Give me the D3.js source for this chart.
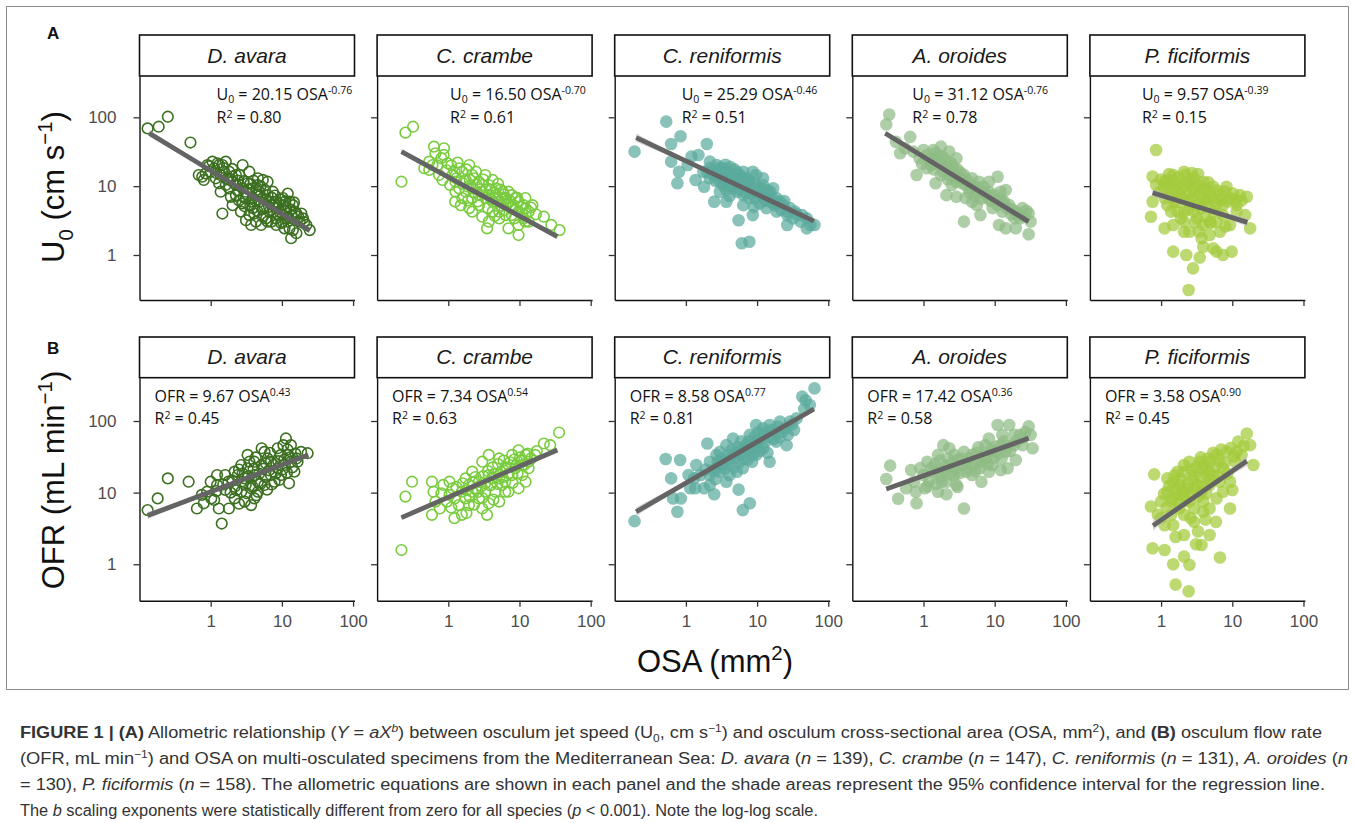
<!DOCTYPE html>
<html>
<head>
<meta charset="utf-8">
<script src="https://cdn.jsdelivr.net/npm/d3@7"></script>
<style>
  body { margin: 0; background: #fff; }
  svg { display: block; }
</style>
</head>
<body>
<svg id="fig" width="1355" height="823"></svg>
<script>
// ---- data ----
const species = ["D. avara", "C. crambe", "C. reniformis", "A. oroides", "P. ficiformis"];
const tickValues = [1, 10, 100];

const u0Coef = ["20.15", "16.50", "25.29", "31.12", "9.57"];
const u0Exp = ["-0.76", "-0.70", "-0.46", "-0.76", "-0.39"];
const u0R2 = ["0.80", "0.61", "0.51", "0.78", "0.15"];
const ofrCoef = ["9.67", "7.34", "8.58", "17.42", "3.58"];
const ofrExp = ["0.43", "0.54", "0.77", "0.36", "0.90"];
const ofrR2 = ["0.45", "0.63", "0.81", "0.58", "0.45"];

// fitted regression lines, [start, end] as [OSA, value]
const u0Fit = [
  [[0.137, 58.6], [24.6, 2.26]],
  [[0.22, 31.7], [34, 1.85]],
  [[0.2, 50.6], [63, 3.1]],
  [[0.29, 58.6], [30, 3.05]],
  [[0.76, 8.0], [16.3, 2.98]]
];
const ofrFit = [
  [[0.13, 4.78], [23.5, 33.6]],
  [[0.22, 4.48], [34, 39.4]],
  [[0.2, 5.4], [63, 147]],
  [[0.3, 11.2], [30, 57.3]],
  [[0.77, 3.46], [16, 27.7]]
];
// 95% CI half width (decades) at start, middle, end
const u0Ci = [[0.05, 0.015, 0.03], [0.03, 0.01, 0.03], [0.06, 0.015, 0.03], [0.03, 0.01, 0.03], [0.06, 0.02, 0.06]];
const ofrCi = [[0.05, 0.015, 0.03], [0.03, 0.01, 0.03], [0.06, 0.015, 0.04], [0.03, 0.01, 0.03], [0.07, 0.02, 0.07]];

// specimens: [OSA mm2, U0 cm/s]
const avaraU0 = [[0.13,69],[0.186,73],[0.25,102],[0.52,43],[0.68,14.5],[0.8,12.3],[0.9,20.3],[1.06,22.7],[1.25,21.5],[1.46,20.3],[1.38,14.5],[1.72,13],[2.26,14.5],[2.81,20.3],[3.49,16.2],[4.6,13],[5.4,12.3],[1.46,4.0],[2.03,5.3],[1.38,8.3],[1.82,9.3],[2.52,10.4],[3.13,8.3],[3.89,6.7],[4.83,5.95],[6.3,7.4],[7.46,8.3],[8.31,5.95],[10.3,5.3],[12.1,7.8],[14.3,5.3],[16,4.0],[19.8,3.4],[24.6,2.3],[14.3,2.3],[13.5,1.75],[16,2.07],[4.33,3.05],[5.1,2.73],[3.49,3.8],[6.69,4.26],[8.31,3.4],[10.3,3.05],[12.1,3.6],[9.27,4.26],[6,3.4],[3.89,4.8],[2.81,5.6],[2.26,7.4],[1.63,10.4],[1.18,13],[1.0,16.2],[0.76,13.7],[1.12,18.2],[1.31,11],[1.92,7.0],[2.66,4.26],[3.13,3.2],[3.7,2.73],[5.7,5.0],[7.1,3.05],[10.9,2.44],[17.8,3.05],[22.1,2.73],[4.6,10.4],[6.3,11.6],[3.3,11],[4.1,4.0],[5.4,3.6],[2.52,14.5],[2.03,11.6],[3.13,6.7],[4.33,7.4],[5.38,6.7],[7.46,5.3],[8.8,4.8],[11.5,4.8],[12.8,5.95],[15.1,4.26],[18.8,4.0],[10.3,3.8],[6.69,5.95],[3.7,5.95],[2.81,9.3],[2.26,10.4],[1.82,16.2],[1.55,16.2],[1.63,22.7],[1.31,20.3],[0.85,15.3],[3.89,9.3],[4.83,8.3],[10.3,6.7],[12.1,3.05],[6.3,3.05],[8.31,2.73],[12.8,2.44],
  [2.4,8.5],[2.9,7.0],[3.4,9.0],[3.6,5.2],[4.2,6.2],[4.5,4.4],[4.9,7.2],[5.3,4.7],[5.8,8.8],[6.0,6.3],[6.6,5.0],[7.2,6.8],[7.6,4.2],[8.0,7.3],[8.6,3.9],[9.0,5.6],[9.6,6.4],[10.8,4.5],[11.2,6.0],[11.8,3.4],[13.2,4.6],[13.8,3.7],[14.8,5.8],[17.0,3.6],[20.5,3.0],[1.7,12.5],[2.0,13.8],[2.4,12.0],[2.9,11.8],[3.6,10.8],[4.0,12.0],[4.4,8.8],[5.0,10.0],[1.2,15.5],[1.5,18.5],[0.95,19.5],[2.0,17.8],[3.0,5.1],[2.5,6.2],[9.8,2.9]];
const crambeU0 = [[0.25,60],[0.32,73],[0.22,11.6],[0.63,37.5],[0.66,30],[0.6,20.3],[0.54,17.2],[0.8,25.4],[0.86,28.4],[0.98,21.5],[1.22,16.2],[0.74,14.5],[0.83,12.3],[1.26,11.6],[1.57,16.2],[1.76,12.3],[2.17,14.5],[2.69,11.6],[3.3,14.5],[4.2,12.3],[1.25,5.95],[1.5,5.3],[1.97,4.8],[2.17,6.7],[3.0,8.3],[3.7,7.4],[4.7,9.3],[5.8,8.3],[6.4,6.7],[7.8,7.4],[9.7,5.95],[11.4,5.3],[13.5,4.26],[12.1,3.05],[9.7,2.73],[7.0,2.44],[9.7,1.95],[3.7,3.05],[3.5,2.44],[3.0,3.6],[5.2,4.26],[6.4,3.8],[7.8,4.8],[22,3.6],[28,2.73],[36.5,2.3],[0.87,35.5],[0.46,18.2],[0.54,22.7],[1.42,9.3],[1.76,8.3],[2.17,9.3],[2.69,7.4],[3.3,6.7],[4.2,5.95],[5.2,5.95],[6.4,5.3],[7.8,3.8],[9.7,4.26],[12.1,4.8],[11.4,3.4],[5.2,3.4],[4.2,4.26],[2.69,5.3],[2.17,4.26],[1.57,6.7],[1.26,8.3],[1.06,10.4],[1.14,14.5],[1.42,18.2],[1.97,20.3],[2.45,16.2],[3.0,10.4],[3.7,10.4],[4.7,7.4],[5.8,6.7],[7.0,8.3],[8.7,6.7],[12.1,6.7],[15.2,5.3],[13.5,3.05],
  [1.3,13],[1.6,11],[1.9,9.8],[2.0,12.5],[2.3,8.0],[2.5,10.5],[2.8,9.0],[3.1,12.5],[3.4,8.8],[3.9,9.0],[4.0,6.4],[4.4,8.1],[4.9,6.5],[5.0,10.8],[5.5,5.2],[6.0,7.6],[6.8,5.6],[7.3,6.1],[8.2,5.3],[8.8,4.5],[9.2,6.8],[10.5,5.0],[11,4.0],[14.5,4.9],[17,3.9],[0.95,17],[1.1,20],[1.35,22],[0.7,20],[1.8,17.5],[2.3,13],[3.6,4.8],[4.5,3.7],[6.2,4.5],[8.5,3.4],[5.4,8.9],[2.6,6.0],[1.9,6.2]];
const reniU0 = [[0.19,31.7],[0.53,86.5],[0.62,41],[0.84,53],[1.97,41],[0.62,22.7],[1.2,27],[1.5,28.4],[0.8,16.2],[0.76,11],[1.37,12.3],[1.8,9.8],[2.5,5.95],[2.17,22.7],[2.7,20.3],[3.3,18.2],[4.2,19],[5.2,16.2],[6.4,16.2],[9.7,14.5],[2.45,14.5],[3.0,11.6],[3.7,13],[4.7,12.3],[5.8,11.6],[7.0,13],[3.0,8.3],[3.7,8.8],[5.2,8.3],[6.4,7.4],[7.8,9.3],[9.7,8.3],[12.1,10.4],[13.5,7.4],[16.8,9.3],[15.2,5.95],[18.8,6.7],[23.5,5.3],[29,4.8],[34,4.26],[43,3.8],[50,3.4],[56,2.73],[64,2.73],[50,2.44],[26.5,2.73],[18.8,4.26],[13.5,4.8],[10.9,5.6],[6.4,5.3],[5.5,3.2],[6.1,1.48],[7.8,1.56],[3.7,5.95],[2.17,13],[1.76,16.2],[1.06,20.3],[8.7,3.8],[32,3.4],[4.2,14.5],[5.2,11],[7.8,11.6],[10.9,9.3],[15.2,8.3],[21,5.95],[12.1,6.7],[7.8,6.7],[3.3,10.4],[2.7,14.5],[2.17,18.2],[5.8,14.5],[8.7,16.2],[12.1,13],[26.5,3.8],[41,3.05],[17.8,5.3],
  [2.3,16.5],[2.6,12.0],[2.9,16.8],[3.2,15.5],[3.5,11.5],[3.8,16.5],[4.0,10.2],[4.4,13.8],[4.6,9.5],[5.0,14.8],[5.5,12.5],[5.6,9.0],[6.0,13.6],[6.6,10.6],[6.9,8.0],[7.4,12.2],[8.0,10.0],[8.3,7.8],[9.0,11.2],[9.4,6.6],[10.2,9.6],[11.0,7.6],[11.8,8.6],[13.0,6.2],[14.0,8.8],[16.0,7.0],[17.0,5.6],[19.5,5.8],[22,4.5],[24,6.1],[27,4.2],[36,3.9],[4.1,7.2],[3.0,18.6],[3.6,20.5],[4.8,17.5],[2.0,15.8],[9.0,5.0]];
const oroU0 = [[0.33,110],[0.3,79],[0.47,30],[0.65,52],[0.8,14.5],[0.55,35.5],[0.72,31.7],[1.12,18.2],[1.0,33.5],[1.38,33.5],[1.76,37.5],[2.3,31.7],[2.9,25.4],[1.7,22.7],[2.1,20.3],[1.48,11],[2.1,7.4],[2.9,7.0],[3.2,13],[3.9,10.4],[4.8,13],[6.0,11.6],[6.7,8.3],[11,13.7],[8.3,8.3],[9.3,6.7],[14.3,8.8],[12.8,5.95],[16,5.3],[19.8,4.26],[24.6,4.8],[30,4.0],[32,3.05],[30,2.0],[11.5,2.73],[14.3,2.44],[19.8,2.44],[3.7,3.05],[6.3,3.8],[4.8,5.95],[2.5,16.2],[0.88,25.4],[0.41,44],[1.29,25.4],[1.6,28.4],[1.9,16.2],[2.3,14.5],[2.9,11.6],[3.7,14.5],[4.6,9.3],[5.6,8.3],[7.9,6.7],[11,5.3],[12.8,4.26],[19,3.4],[22.8,3.4],[8.3,11.6],[12.1,8.3],[1.29,20.3],[1.76,14.5],[2.5,10.4],[3.9,6.7],[9.3,4.8],[5.6,5.3],
  [1.1,28],[1.2,24],[1.45,30],[1.55,21],[1.85,27],[2.0,24.5],[2.2,17.5],[2.4,22],[2.6,19.5],[2.7,13.8],[3.0,17.5],[3.3,15.8],[3.5,11.0],[3.8,12.8],[4.2,11.8],[4.4,8.2],[5.0,10.0],[5.3,7.2],[5.8,9.6],[6.4,6.6],[7.0,9.8],[7.5,7.6],[8.8,6.1],[9.8,7.5],[10.5,5.6],[11.8,6.6],[13.5,6.0],[15.0,4.8],[17.5,4.6],[21,3.9],[26,3.6],[28,4.4],[0.95,21],[1.4,17.5],[2.2,12.5],[17,3.9]];
const ficiU0 = [[0.85,33.5],[0.76,13.8],[0.76,5.95],[0.72,3.6],[1.12,2.44],[1.48,1.12],[2.26,1.0],[3.49,0.92],[2.81,0.64],[2.44,0.31],[6.0,1.12],[7.4,1.0],[9.8,1.12],[3.9,1.32],[5.4,1.25],[2.1,16.2],[1.48,14.5],[1.12,11.6],[2.9,13],[3.9,11.6],[5.4,9.8],[8.3,9.8],[12.8,7.4],[16,7.0],[15.2,3.8],[17.8,2.44],[11.5,5.3],[9.3,6.7],[6.7,7.4],[1.22,5.3],[1.7,4.26],[2.1,3.05],[2.5,2.18],[3.7,1.75],[4.8,1.95],[6.7,2.18],[9.3,2.73],[7.4,3.8],[5.4,4.26],[3.7,4.8],[2.5,5.95],[1.82,7.4],[1.38,8.3],[0.96,8.3],[0.85,10.4],[2.9,8.3],[3.9,6.7],[4.8,8.3],[1.48,2.73],[2.1,2.18],[3.9,2.73],[6.0,3.05],[3.2,3.4],[1.7,5.95],[1.12,6.7],[2.3,11.6],[1.7,10.4],[3.7,9.3],[7.4,5.3],[11.5,4.26],[1.22,12.3],[2.1,4.26],[2.9,4.26],[1.38,4.26],[4.3,5.3],[6.0,5.3],
  [1.0,12.5],[1.1,9.5],[1.3,10.5],[1.4,7.0],[1.55,12.0],[1.6,8.6],[1.75,13.5],[1.9,9.2],[2.0,6.6],[2.2,10.0],[2.35,7.6],[2.6,11.0],[2.7,6.8],[2.9,9.6],[3.1,5.4],[3.3,10.4],[3.5,7.8],[3.8,5.8],[4.1,9.2],[4.5,6.4],[4.6,11.4],[5.0,7.0],[5.6,6.2],[6.2,8.6],[7.0,6.4],[7.8,8.4],[8.6,6.0],[10.2,7.8],[11.0,6.2],[13.5,6.2],[1.5,6.0],[2.4,4.6],[3.0,3.0],[4.2,3.6],[5.0,2.9],[1.9,3.4],[2.2,14.5],[2.7,15.5],[3.3,15.0],[1.3,15.0],[4.8,3.0],[3.4,2.2],[8.0,2.6]];

// specimens: [OSA mm2, OFR mL/min]
const avaraOfr = [[0.13,5.7],[0.18,8.3],[0.25,15.8],[0.49,14.2],[0.64,6.0],[0.8,7.1],[0.89,10.3],[1.0,14.2],[1.23,17.6],[1.12,7.9],[1.3,6.0],[1.43,3.7],[1.8,6.0],[1.6,10.9],[2.17,12.1],[2.4,17.6],[2.69,24.3],[3.3,33.6],[3.0,15.8],[3.7,11.5],[4.1,8.3],[4.6,14.2],[5.2,24.3],[5.2,41.6],[6.3,30],[7.0,17.6],[8.7,21.9],[9.7,33.6],[11.4,57],[13.4,46],[12.6,13.5],[15,19.6],[16.6,27],[18.6,37],[23,35.5],[4.1,17.6],[3.3,21.9],[2.17,8.3],[1.6,17.6],[2.69,10.3],[3.7,6.7],[5.7,12.8],[7.9,14.2],[11,24.3],[12.2,33.6],[7.0,27],[5.7,37],[2.17,19.6],[1.77,14.2],[1.23,12.8],[1.02,8.3],[0.75,9.3],[9.7,17.6],[13.4,27],[4.6,10.3],[3.0,7.5],[4.1,27],[2.69,14.2],[8.7,41.6],
  [2.0,14.8],[2.3,10.8],[2.5,21],[2.8,18.5],[3.1,12.8],[3.4,17.0],[3.5,27],[3.9,12.0],[4.0,21.5],[4.3,31],[4.8,18.5],[5.0,13.2],[5.5,21.5],[5.9,16.5],[6.0,25.5],[6.6,20.5],[7.2,13.0],[7.6,24.5],[8.2,18.5],[8.9,27.5],[9.2,15.0],[10.2,21.0],[10.8,29],[11.8,19.0],[12.0,40],[13.0,31],[14.0,22.5],[15.5,35],[6.2,11.0],[4.4,9.2],[3.2,9.8],[2.5,7.0],[1.9,10.0],[1.5,13.0],[1.2,10.5],[16,30],[10.5,46],[6.8,36]];
const crambeOfr = [[0.22,1.58],[0.25,8.8],[0.31,14.2],[0.59,14.2],[0.62,10.3],[0.66,7.5],[0.76,6.0],[0.59,4.9],[0.85,12.8],[1.04,14.2],[1.04,9.3],[1.22,4.4],[1.55,4.9],[1.95,6.7],[1.55,10.3],[1.75,15.8],[2.17,19.6],[2.69,14.2],[3.0,27],[3.7,33.6],[3.5,4.9],[3.7,7.1],[4.6,10.3],[5.2,15.8],[6.3,21.9],[7.9,33.6],[9.7,39],[12.2,33.6],[13.4,27],[9.7,11.5],[7.0,10.3],[5.2,7.5],[2.69,8.3],[2.17,10.3],[1.23,8.3],[1.4,6.7],[3.3,10.3],[4.1,15.8],[5.7,12.8],[7.9,17.6],[11,17.6],[13.4,21.9],[11,24.3],[8.7,21.9],[6.3,14.2],[22,48.5],[27,46],[36,69],[16.6,33.6],[3.7,17.6],[2.45,11.5],[1.75,8.3],[0.96,7.5],[1.15,11.5],[3.0,6.0],[6.3,10.3],[12.2,14.2],[5.2,30],[1.95,12.8],
  [1.3,12.0],[1.6,13.5],[1.8,10.8],[2.0,8.8],[2.2,14.0],[2.4,16.5],[2.6,10.2],[2.9,12.3],[3.1,17.0],[3.3,13.5],[3.6,20],[3.9,12.6],[4.2,22.5],[4.4,18.0],[4.9,13.2],[5.0,25],[5.5,19.5],[5.8,16.4],[6.0,28],[6.6,22.5],[7.1,18.6],[7.4,26.5],[8.0,13.6],[8.4,29],[9.0,24],[9.4,18.6],[10.2,31],[10.8,28],[11.8,24.5],[13.0,35],[14.5,30],[17.5,38],[1.1,6.2],[1.8,5.2],[2.3,6.8],[3.0,8.4],[4.3,8.0],[0.8,9.8]];
const reniOfr = [[0.19,4.0],[0.52,29.5],[0.83,28.5],[0.62,15.8],[0.76,5.4],[0.85,8.3],[0.66,8.3],[1.09,17.6],[1.4,24.3],[1.35,11.5],[1.8,11.5],[2.5,9.5],[2.0,48.5],[2.17,27],[2.69,33.6],[3.0,19.6],[3.7,46],[4.1,30],[4.6,57],[5.5,11],[6.3,5.7],[7.9,7.1],[6.3,21.9],[7.0,46],[7.9,37],[9.7,88],[9.7,51.5],[12.2,64],[15,27],[15,88],[18.6,71],[21,98],[26,46],[29,98],[36,109],[43,219],[48,195],[55,167],[64,285],[46,147],[3.3,24.3],[5.2,37],[5.2,19.6],[3.7,14.2],[2.17,17.6],[1.6,17.6],[1.15,11.5],[9.7,33.6],[12.2,41.6],[18.6,51.5],[23,71],[4.1,17.6],[2.69,21.9],[5.7,27],[7.9,64],[3.0,37],[12.2,79],[6.3,41.6],[2.17,12.8],[1.3,15.8],
  [2.4,20.5],[2.8,27],[3.2,29],[3.5,21.5],[3.8,33],[4.0,25],[4.4,40],[4.7,22.5],[5.0,31],[5.4,43],[5.8,34],[6.0,52],[6.5,30],[6.8,38],[7.4,29],[7.6,52],[8.2,44],[8.8,34],[9.2,60],[10.0,45],[10.5,70],[11.0,38],[11.5,57],[12.8,50],[13.5,70],[14.5,60],[16.0,75],[17.0,56],[19.5,83],[21,60],[25,80],[27,64],[31,90],[33,75],[3.0,26],[4.6,34],[2.6,15.5],[1.9,21],[8.5,27],[14,36]];
const oroOfr = [[0.34,23.8],[0.3,15.5],[0.44,8.2],[0.8,7.1],[0.67,20.7],[0.74,14.2],[0.57,11.5],[0.78,10.3],[1.13,12.2],[1.13,27],[1.6,33.6],[1.9,46],[2.3,41.6],[2.1,23.6],[1.6,10.3],[2.1,9.5],[1.8,14.2],[2.9,12.8],[3.7,6.0],[3.5,24.3],[2.7,17.6],[4.0,19.6],[5.9,43],[6.7,27],[6.5,14.2],[8.3,19.6],[9.3,37],[11,88],[12.8,64],[16,88],[12.2,20.7],[15.2,21.9],[19.8,28.5],[24.6,46],[30,84],[32,64],[34,41.6],[22.8,64],[18.8,46],[4.8,33.6],[4.8,17.6],[6.0,27],[7.4,46],[12.1,46],[14.3,37],[1.29,21.9],[1.0,17.6],[1.6,19.6],[2.7,33.6],[3.7,37],[9.3,24.3],[18.8,64],[8.3,57],[2.1,14.2],
  [1.2,14.5],[1.35,19.5],[1.45,25],[1.7,28],[1.75,16.5],[2.0,20.5],[2.2,30],[2.4,18.0],[2.5,25.5],[2.8,22],[3.0,29],[3.2,18.6],[3.4,30],[3.9,26],[4.2,22.5],[4.4,30],[5.0,24.5],[5.4,20],[5.6,36],[6.2,22],[6.9,33],[7.6,30],[8.0,25],[8.8,40],[9.8,31],[10.4,44],[11.2,35],[12.5,30],[13.5,52],[15.0,45],[16.5,38],[20,52],[25,58],[27,70],[1.05,11.5],[1.5,13.2],[3.0,12.0],[0.9,22]];
const ficiOfr = [[0.8,18],[0.72,6.4],[0.76,1.67],[1.12,1.58],[1.48,1.0],[2.1,1.28],[2.5,0.98],[1.6,0.52],[2.44,0.42],[6.7,1.24],[3.7,1.86],[4.8,2.56],[5.9,3.9],[9.3,6.0],[10,10.9],[16,67],[17.8,46],[19.8,24.3],[12.1,51.5],[8.3,37],[6.0,33.6],[4.8,27],[3.9,21.9],[2.9,17.6],[2.1,24.3],[1.48,14.2],[1.22,10.3],[1.0,7.5],[1.38,4.9],[1.8,6.0],[2.5,7.5],[3.7,10.3],[4.8,12.8],[6.7,14.2],[6.0,8.3],[3.9,5.4],[2.9,3.9],[2.1,2.56],[1.48,3.5],[1.12,3.5],[7.4,21.9],[11,27],[13.5,33.6],[9.3,14.2],[3.3,12.8],[2.3,11.5],[1.7,9.3],[1.22,15.8],[1.7,19.6],[2.5,27],[3.5,27],[4.3,17.6],[5.4,17.6],[3.9,7.5],[2.9,6.0],[2.1,4.9],[0.9,4.9],[4.8,6.0],[7.4,10.3],[3.3,2.86],[2.1,9.3],[1.82,12.8],[1.38,7.5],
  [1.1,9.6],[1.2,6.2],[1.3,12.5],[1.45,8.4],[1.55,17.5],[1.6,11.2],[1.75,7.2],[1.9,15.5],[2.0,10.6],[2.1,19.5],[2.2,7.8],[2.4,13.6],[2.6,9.8],[2.7,20.5],[2.8,15.2],[3.0,11.0],[3.1,22.5],[3.3,8.8],[3.5,16.4],[3.6,31],[3.8,12.2],[4.0,24],[4.3,9.8],[4.5,30],[4.7,19.5],[5.0,15.0],[5.4,36],[5.8,23],[6.3,17.0],[6.5,28],[7.0,40],[7.8,26],[8.5,18.5],[9.5,42],[10.5,32],[11.5,37],[14.5,45],[1.0,4.4],[2.6,4.4],[1.6,2.4],[4.2,4.2],[3.1,1.9]];

const u0Points = [avaraU0, crambeU0, reniU0, oroU0, ficiU0];
const ofrPoints = [avaraOfr, crambeOfr, reniOfr, oroOfr, ficiOfr];

// ---- styling ----
const colors = ["#3c7021", "#7acc3f", "#5aaa9c", "#8fbb85", "#a3ca3c"];
const hollow = [true, true, false, false, false];

const svg = d3.select("#fig");
const axisFont = "'Liberation Sans', Arial, sans-serif";
const eqFont = "'Open Sans', 'Noto Sans', sans-serif";

const panelW = 215, panelStep = 237.6, panelX0 = 139.5;
const xDomain = [0.1, Math.pow(10, 2.02)];

const rows = [
  { tag: "A", tagY: 39, stripTop: 35, top: 76, bottom: 300, yDomain: [0.222, 398], pts: u0Points, fit: u0Fit, ci: u0Ci,
    eq: i => [["U"], ["0", "sub"], [" = " + u0Coef[i] + " OSA"], [u0Exp[i], "sup"]],
    r2: i => [["R"], ["2", "sup"], [" = " + u0R2[i]]],
    eqOffset: [77, 73, 67, 60, 52], xLabels: false },
  { tag: "B", tagY: 354, stripTop: 337, top: 377.7, bottom: 600.7, yDomain: [0.31, 402], pts: ofrPoints, fit: ofrFit, ci: ofrCi,
    eq: i => [["OFR = " + ofrCoef[i] + " OSA"], [ofrExp[i], "sup"]],
    r2: i => [["R"], ["2", "sup"], [" = " + ofrR2[i]]],
    eqOffset: [15, 15, 15, 15, 15], xLabels: true }
];

// writes text parts with sub/superscripts into a <text>; mode tokens: b, i, sub, sup
function rich(sel, parts, size, subShift = 0.28, supShift = 0.38) {
  let cur = 0;
  parts.forEach(([t, mode]) => {
    const m = (mode || "").split(" ");
    const small = m.includes("sub") || m.includes("sup");
    const target = m.includes("sub") ? subShift * size : m.includes("sup") ? -supShift * size : 0;
    const ts = sel.append("tspan")
      .attr("dy", target - cur)
      .attr("font-size", small ? size * 0.66 : size)
      .text(t);
    if (m.includes("b")) ts.attr("font-weight", "bold");
    if (m.includes("i")) ts.attr("font-style", "italic");
    cur = target;
  });
}

// outer frame of the figure
svg.append("rect").attr("x", 6.5).attr("y", 6.5).attr("width", 1342).attr("height", 683)
  .attr("fill", "none").attr("stroke", "#8c8c8c").attr("stroke-width", 1);

rows.forEach(row => {
  svg.append("text").attr("x", 47).attr("y", row.tagY)
    .attr("font-family", axisFont).attr("font-weight", "bold").attr("font-size", 17)
    .attr("fill", "#111").text(row.tag);

  species.forEach((name, i) => {
    const left = panelX0 + i * panelStep;
    const x = d3.scaleLog().domain(xDomain).range([left, left + panelW]);
    const y = d3.scaleLog().domain(row.yDomain).range([row.bottom, row.top]);
    const g = svg.append("g");

    // strip
    g.append("rect").attr("x", left).attr("y", row.stripTop)
      .attr("width", panelW).attr("height", row.top - row.stripTop)
      .attr("fill", "#fff").attr("stroke", "#111").attr("stroke-width", 1.6);
    g.append("text").attr("x", left + panelW / 2).attr("y", (row.stripTop + row.top) / 2 + 7)
      .attr("text-anchor", "middle").attr("font-family", axisFont).attr("font-style", "italic")
      .attr("font-size", 21).attr("fill", "#1a1a1a").text(name);

    // points
    const pts = g.append("g").selectAll("circle").data(row.pts[i]).join("circle")
      .attr("cx", d => x(d[0])).attr("cy", d => y(d[1]));
    if (hollow[i]) {
      pts.attr("r", 5.3).attr("fill", "none").attr("stroke", colors[i]).attr("stroke-width", 1.6);
    } else {
      pts.attr("r", 6.3).attr("fill", colors[i]).attr("fill-opacity", 0.72);
    }

    // confidence ribbon and fitted line
    const [p0, p1] = row.fit[i];
    const mid = [Math.sqrt(p0[0] * p1[0]), Math.sqrt(p0[1] * p1[1])];
    const c = row.ci[i];
    const upper = [[p0[0], p0[1] * Math.pow(10, c[0])], [mid[0], mid[1] * Math.pow(10, c[1])], [p1[0], p1[1] * Math.pow(10, c[2])]];
    const lower = [[p1[0], p1[1] / Math.pow(10, c[2])], [mid[0], mid[1] / Math.pow(10, c[1])], [p0[0], p0[1] / Math.pow(10, c[0])]];
    const band = d3.line().x(d => x(d[0])).y(d => y(d[1])).curve(d3.curveCatmullRom);
    g.append("path").attr("d", band(upper) + "L" + band(lower).slice(1) + "Z")
      .attr("fill", "#bdbdbd").attr("fill-opacity", 0.6);
    g.append("path").attr("d", d3.line().x(d => x(d[0])).y(d => y(d[1]))([p0, p1]))
      .attr("stroke", "#646464").attr("stroke-width", 4.8).attr("fill", "none");

    // equation labels
    const ex = left + row.eqOffset[i];
    const t1 = g.append("text").attr("x", ex).attr("y", row.top + 24)
      .attr("font-family", eqFont).attr("fill", "#111");
    rich(t1, row.eq(i), 16, 0.18, 0.36);
    const t2 = g.append("text").attr("x", ex).attr("y", row.top + 46.5)
      .attr("font-family", eqFont).attr("fill", "#111");
    rich(t2, row.r2(i), 16, 0.18, 0.3);

    // axes
    const ya = g.append("g").attr("transform", `translate(${left},0)`)
      .call(d3.axisLeft(y).tickValues(tickValues).tickFormat(d3.format("d")).tickSize(6).tickSizeOuter(0).tickPadding(17));
    const xa = g.append("g").attr("transform", `translate(0,${row.bottom})`)
      .call(d3.axisBottom(x).tickValues(tickValues).tickFormat(d3.format("d")).tickSize(6).tickSizeOuter(0).tickPadding(8));
    [ya, xa].forEach(a => {
      a.select(".domain").attr("stroke", "#111").attr("stroke-width", 1.4);
      a.selectAll(".tick line").attr("stroke", "#333").attr("stroke-width", 1.3);
      a.selectAll("text").attr("font-family", axisFont).attr("font-size", 17).attr("fill", "#4d4d4d");
    });
    if (i > 0) ya.selectAll("text").remove();
    if (!row.xLabels) xa.selectAll("text").remove();
  });
});

// axis titles
const yt1 = svg.append("text").attr("transform", "translate(64,187) rotate(-90)")
  .attr("text-anchor", "middle").attr("font-family", axisFont).attr("fill", "#111");
rich(yt1, [["U"], ["0", "sub"], [" (cm s"], ["\u22121", "sup"], [")"]], 31);
const yt2 = svg.append("text").attr("transform", "translate(64,480) rotate(-90)")
  .attr("text-anchor", "middle").attr("font-family", axisFont).attr("fill", "#111");
rich(yt2, [["OFR (mL min"], ["\u22121", "sup"], [")"]], 31);
const xt = svg.append("text").attr("x", 715).attr("y", 672)
  .attr("text-anchor", "middle").attr("font-family", axisFont).attr("fill", "#111");
rich(xt, [["OSA (mm"], ["2", "sup"], [")"]], 31);

// caption
const captionLines = [
  [["FIGURE 1 | (A)", "b"], [" Allometric relationship ("], ["Y", "i"], [" = "], ["aX", "i"], ["b", "i sup"], [") between osculum jet speed (U"], ["0", "sub"], [", cm s"], ["\u22121", "sup"], [") and osculum cross-sectional area (OSA, mm"], ["2", "sup"], ["), and "], ["(B)", "b"], [" osculum flow rate"]],
  [["(OFR, mL min"], ["\u22121", "sup"], [") and OSA on multi-osculated specimens from the Mediterranean Sea: "], ["D. avara", "i"], [" ("], ["n", "i"], [" = 139), "], ["C. crambe", "i"], [" ("], ["n", "i"], [" = 147), "], ["C. reniformis", "i"], [" ("], ["n", "i"], [" = 131), "], ["A. oroides", "i"], [" ("], ["n", "i"]],
  [["= 130), "], ["P. ficiformis", "i"], [" ("], ["n", "i"], [" = 158). The allometric equations are shown in each panel and the shade areas represent the 95% confidence interval for the regression line."]],
  [["The "], ["b", "i"], [" scaling exponents were statistically different from zero for all species ("], ["p", "i"], [" < 0.001). Note the log-log scale."]]
];
const captionWidths = [1302, 1328, 1305, 798];
captionLines.forEach((parts, k) => {
  const t = svg.append("text").attr("x", 20).attr("y", 738 + k * 26)
    .attr("font-family", "'Liberation Sans Narrow', 'Liberation Sans', Arial, sans-serif")
    .attr("fill", "#333").attr("textLength", captionWidths[k]).attr("lengthAdjust", "spacingAndGlyphs");
  rich(t, parts, 16);
});
</script>
</body>
</html>
